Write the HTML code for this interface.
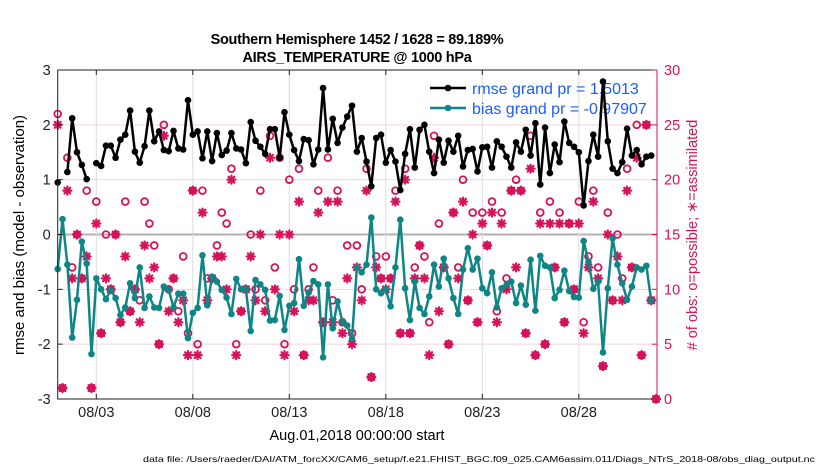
<!DOCTYPE html>
<html><head><meta charset="utf-8"><style>
html,body{margin:0;padding:0;background:#fff;}
svg{display:block;font-family:"Liberation Sans",sans-serif;}
</style></head><body>
<svg id="chart" width="830" height="470" viewBox="0 0 830 470" xmlns="http://www.w3.org/2000/svg">
<text x="357" y="44" text-anchor="middle" font-size="14.5" font-weight="bold" letter-spacing="-0.3">Southern Hemisphere 1452 / 1628 = 89.189%</text>
<text x="357" y="62" text-anchor="middle" font-size="14.5" font-weight="bold" letter-spacing="-0.3">AIRS_TEMPERATURE @ 1000 hPa</text>
<g id="grid"></g>
<g>
<g>
<line x1="430" y1="88" x2="466" y2="88" stroke="#000" stroke-width="2.5"/><circle cx="448" cy="88" r="3.3" fill="#000"/>
<text x="472" y="94" font-size="16" fill="#1a5cff">rmse grand pr = 1.5013</text></g>
<g>
<line x1="430" y1="108" x2="466" y2="108" stroke="#0f8585" stroke-width="2.5"/><circle cx="448" cy="108" r="3.3" fill="#0f8585"/>
<text x="472" y="114" font-size="16" fill="#1a5cff">bias grand pr = -0.97907</text></g>
</g>
<g id="marks"></g>
<g id="axes"></g>
<text x="357" y="440" text-anchor="middle" font-size="14.5">Aug.01,2018 00:00:00 start</text>
<text transform="translate(24,235) rotate(-90)" text-anchor="middle" font-size="15">rmse and bias (model - observation)</text>
<text transform="translate(697,235) rotate(-90)" text-anchor="middle" font-size="14.5" fill="#d6125a"># of obs: o=possible; ∗=assimilated</text>
<text x="143" y="462" font-size="8.5" textLength="672" lengthAdjust="spacingAndGlyphs">data file: /Users/raeder/DAI/ATM_forcXX/CAM6_setup/f.e21.FHIST_BGC.f09_025.CAM6assim.011/Diags_NTrS_2018-08/obs_diag_output.nc</text>
</svg>
<script>
const dateTicks = ["08/03","08/08","08/13","08/18","08/23","08/28"];
const dateTickDays = [2,7,12,17,22,27];
const leftTicks = [3,2,1,0,-1,-2,-3];
const rightTicks = [0,5,10,15,20,25,30];
const stepDays = 0.25;
const rmse = [0.95,null,1.14,2.12,1.50,1.27,1.01,null,1.30,1.25,1.62,1.62,1.40,1.73,1.82,2.26,1.51,1.31,1.61,2.26,1.70,1.88,1.54,1.52,1.89,1.57,1.55,2.45,1.82,1.88,1.39,1.88,
1.34,1.85,1.45,1.53,1.85,1.57,1.55,1.30,2.05,1.71,1.60,1.47,1.92,1.92,1.40,2.23,1.82,1.54,1.34,1.74,1.72,1.28,1.55,2.67,1.55,2.11,1.67,1.95,2.15,2.35,1.51,
1.76,1.33,0.88,1.76,1.82,1.31,1.54,1.33,0.81,1.47,1.92,1.22,1.91,2.00,1.51,1.12,1.73,1.31,1.71,1.51,1.80,1.24,1.54,1.56,1.15,1.59,1.60,1.22,1.70,1.60,1.42,
1.22,1.68,1.51,1.91,1.44,2.03,0.91,1.95,1.12,1.64,1.32,2.06,1.67,1.60,1.50,0.53,1.34,1.82,1.42,2.79,1.70,1.20,1.12,1.32,1.93,1.44,1.54,1.28,1.42,1.44,null];
const bias = [-0.63,0.28,-0.55,-1.88,-1.19,-0.13,-0.53,-2.18,-0.80,-1.00,-1.18,-1.01,-1.16,-1.47,-1.33,-0.89,-1.16,-0.60,-1.34,-1.13,-1.33,-1.34,-0.95,-1.01,-1.33,-1.08,-1.08,-1.89,-1.43,-1.34,-0.38,-1.29,
-0.77,-0.86,-1.01,-1.15,-1.45,-0.81,-1.00,-1.00,-1.76,-0.83,-0.91,-1.01,-1.57,-1.56,-1.12,-1.74,-1.30,-1.25,-0.45,-1.30,-1.06,-0.85,-0.91,-2.24,-0.91,-1.71,-1.22,-1.59,-1.66,-1.90,-0.60,
-0.69,-0.55,0.31,-1.00,-1.07,-1.00,-1.31,-0.60,0.27,-0.98,-1.56,-0.86,-1.34,-1.45,-1.13,-0.55,-0.95,-0.44,-0.80,-1.16,-1.45,-0.64,-0.25,-0.64,-0.44,-0.98,-1.07,-0.69,-1.33,-0.98,-0.92,
-0.86,-1.25,-0.93,-1.28,-0.46,-1.39,-0.39,-0.57,-0.60,-1.16,-1.01,-0.66,-1.03,-1.14,-1.15,-0.12,-0.50,-0.99,-0.86,-2.15,-0.98,-0.07,-0.55,-0.89,-1.19,-0.95,-0.60,-0.64,-0.57,-1.21,null];
const possible = [26,1,22,12,15,11,19,1,18,6,15,10,15,7,18,8,10,9,18,16,14,5,25,10,11,8,13,6,19,5,19,11,
11,14,17,16,21,5,8,10,15,10,19,9,24,12,22,5,20,10,21,4,10,12,19,7,22,9,19,7,14,6,14,
10,21,2,13,11,13,11,19,6,21,6,12,14,13,7,24,16,12,5,17,12,20,9,17,7,17,14,18,8,17,11,
19,20,19,6,24,4,17,5,18,12,17,7,16,10,18,7,13,19,12,3,17,9,15,11,21,12,25,4,25,9,0];
const assimilated = [25,1,19,11,15,11,13,1,16,6,11,10,15,7,13,8,10,7,14,11,12,5,24,8,11,7,9,4,19,4,17,9,
11,13,13,10,20,4,8,10,13,9,15,8,22,10,15,4,15,8,18,4,9,9,17,7,18,7,18,6,11,5,12,
9,19,2,12,11,10,11,18,6,20,6,11,14,11,4,22,8,12,5,17,11,18,9,15,7,16,14,17,7,16,10,
19,12,19,6,21,4,16,5,16,12,16,7,16,10,16,6,12,18,11,3,15,9,13,9,19,12,22,4,25,9,0];

const NS="http://www.w3.org/2000/svg";
const X0=57.7,X1=657,Y0=70,Y1=399,DAYS=31.05;
const xs=d=>X0+(X1-X0)*d/DAYS;
const yl=v=>Y1-(v+3)/6*(Y1-Y0);
const yr=c=>Y1-c/30*(Y1-Y0);
function mk(parent,tag,attrs){const e=document.createElementNS(NS,tag);for(const k in attrs)e.setAttribute(k,attrs[k]);parent.appendChild(e);return e;}
const grid=document.getElementById('grid'),marks=document.getElementById('marks'),axes=document.getElementById('axes');

leftTicks.forEach(v=>{if(v===3||v===-3)return;
 const l=mk(grid,'line',{x1:X0,x2:X1,y1:yl(v),y2:yl(v),stroke:v===0?'#b8b0b0':'#f6d3de','stroke-width':v===0?2:1});
 
 
});
dateTickDays.forEach(d=>{
 const l=mk(grid,'line',{x1:xs(d),x2:xs(d),y1:Y0,y2:Y1,stroke:'#dcdcdc','stroke-width':1});
 
 
});

function star(cx,cy){
 const g=mk(marks,'g',{stroke:'#d6125a','stroke-width':2.2,'stroke-linecap':'round'});
 
 
 const r=4;
 mk(g,'line',{x1:cx-r,y1:cy,x2:cx+r,y2:cy});
 mk(g,'line',{x1:cx,y1:cy-r,x2:cx,y2:cy+r});
 mk(g,'line',{x1:cx-r*0.72,y1:cy-r*0.72,x2:cx+r*0.72,y2:cy+r*0.72});
 mk(g,'line',{x1:cx-r*0.72,y1:cy+r*0.72,x2:cx+r*0.72,y2:cy-r*0.72});
}
possible.forEach((c,i)=>{
 const e=mk(marks,'circle',{cx:xs(i*stepDays),cy:yr(c),r:3.4,fill:'none',stroke:'#d6125a','stroke-width':1.8});
 
 
});
assimilated.forEach((c,i)=>star(xs(i*stepDays),yr(c)));

function series(vals,color,name){
 let d='',pen=false;
 vals.forEach((v,i)=>{if(v===null){pen=false;return;}d+=(pen?'L':'M')+xs(i*stepDays).toFixed(1)+' '+yl(v).toFixed(1);pen=true;});
 const p=mk(marks,'path',{d:d,fill:'none',stroke:color,'stroke-width':2.5,'stroke-linejoin':'round'});
 
 
 vals.forEach((v,i)=>{if(v===null)return;
  const c=mk(marks,'circle',{cx:xs(i*stepDays),cy:yl(v),r:3.3,fill:color});
  
  
 });
}
series(rmse,'#000','rmse');
series(bias,'#0f8585','bias');

const fr=mk(axes,'path',{d:`M${X1} ${Y0}H${X0}V${Y1}H${X1}`,fill:'none',stroke:'#222','stroke-width':1});


const ra=mk(axes,'line',{x1:X1,x2:X1,y1:Y0,y2:Y1,stroke:'#d6125a','stroke-width':1});


leftTicks.forEach(v=>{
 mk(axes,'line',{x1:X0,x2:X0+5,y1:yl(v),y2:yl(v),stroke:'#222'});
 const t=mk(axes,'text',{x:X0-7,y:yl(v)+5,'text-anchor':'end','font-size':14.5,fill:'#222'});
 t.textContent=v;
 
 
});
rightTicks.forEach(c=>{
 mk(axes,'line',{x1:X1-5,x2:X1,y1:yr(c),y2:yr(c),stroke:'#d6125a'});
 const t=mk(axes,'text',{x:X1+7,y:yr(c)+5,'text-anchor':'start','font-size':14.5,fill:'#d6125a'});
 t.textContent=c;
 
 
});
dateTicks.forEach((lab,i)=>{
 const x=xs(dateTickDays[i]);
 mk(axes,'line',{x1:x,x2:x,y1:Y1,y2:Y1-5,stroke:'#222'});
 mk(axes,'line',{x1:x,x2:x,y1:Y0,y2:Y0+5,stroke:'#222'});
 const t=mk(axes,'text',{x:x,y:Y1+18,'text-anchor':'middle','font-size':14.5,fill:'#222'});
 t.textContent=lab;
 
 
});
</script>
</body></html>
